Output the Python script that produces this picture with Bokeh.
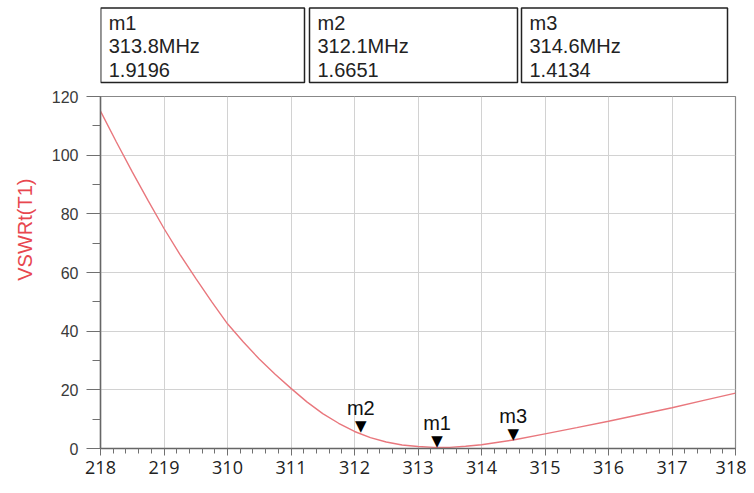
import math
from bokeh.plotting import figure
from bokeh.models import (Range1d, SingleIntervalTicker, Title, ColumnDataSource)
from bokeh.layouts import column
from bokeh.core.properties import value
from bokeh.embed import file_html
from bokeh.resources import INLINE

# ---- data ----
freq = [308, 308.25, 308.5, 308.75, 309, 309.25, 309.5, 309.75, 310,
        310.25, 310.5, 310.75, 311, 311.25, 311.5, 311.75, 312,
        312.25, 312.5, 312.75, 313, 313.25, 313.5, 313.75, 314,
        314.5, 315, 315.5, 316, 316.5, 317, 317.5, 318]
vswr = [115, 104.5, 94.3, 84.5, 75, 66.2, 58, 50.1, 42.5,
        36.3, 30.5, 25.3, 20.5, 15.9, 11.9, 8.6, 5.8,
        3.7, 2.2, 1.2, 0.7, 0.4, 0.4, 0.75, 1.3,
        2.9, 5.0, 7.1, 9.3, 11.6, 13.9, 16.4, 18.9]

x_ticks = [308, 309, 310, 311, 312, 313, 314, 315, 316, 317, 318]
x_tick_labels = ["218", "219", "310", "311", "312", "313", "314", "315", "316", "317", "318"]

marker_names = ["m1", "m2", "m3"]
marker_x = [313.3, 312.1, 314.5]
marker_y = [0.4, 5.6, 3.0]
box_freq = ["313.8MHz", "312.1MHz", "314.6MHz"]
box_val = ["1.9196", "1.6651", "1.4134"]

CURVE = "#e9777d"

W = 746
FRAME_L, FRAME_R = 100, 735

# ---- top boxes figure (frame aligned with main frame, page coords) ----
top = figure(width=W, height=88, x_range=Range1d(FRAME_L, FRAME_R), y_range=Range1d(88, 0),
             output_backend="svg", toolbar_location=None, min_border=0,
             min_border_left=FRAME_L, min_border_right=W - FRAME_R)
top.axis.visible = False
top.grid.visible = False
top.outline_line_color = None
box_left = [100.2, 309, 521]
box_right = [304, 517, 727]
top.quad(left=box_left, right=box_right, top=[7.5] * 3, bottom=[82] * 3,
         fill_color="white", line_color="#222222", line_width=1.5)
for i in range(3):
    lines = [marker_names[i], box_freq[i], box_val[i]]
    ys = [22, 45.5, 69]
    top.text(x=[box_left[i] + 8] * 3, y=ys, text=lines,
             text_font=value("Liberation Sans"), text_font_size="20px",
             text_color="#222222", text_align="left", text_baseline="middle")

# ---- main figure ----
p = figure(width=W, height=397, x_range=Range1d(308, 318), y_range=Range1d(0, 120),
           output_backend="svg", toolbar_location=None,
           min_border_top=8, min_border_bottom=37, min_border_left=FRAME_L,
           min_border_right=W - FRAME_R)

p.line(freq, vswr, line_color=CURVE, line_width=1.4)

# markers
src = ColumnDataSource(dict(x=marker_x, y=marker_y, name=marker_names,
                            tri=["\u25BC"] * 3))
p.text(x="x", y="y", text="tri", source=src, text_font=value("DejaVu Sans"),
       text_font_size="15px", text_color="black", text_align="center",
       text_baseline="bottom", y_offset=3)
p.text(x="x", y="y", text="name", source=src, text_font=value("Liberation Sans"),
       text_font_size="20px", text_color="#111111", text_align="center",
       text_baseline="bottom", y_offset=-13)

# axes
p.xaxis.ticker = SingleIntervalTicker(interval=1, num_minor_ticks=5)
p.xaxis.major_label_overrides = {x: l for x, l in zip(x_ticks, x_tick_labels)}
p.yaxis.ticker = SingleIntervalTicker(interval=20, num_minor_ticks=2)

for ax in (p.xaxis, p.yaxis):
    ax.axis_line_color = "#666666"
    ax.axis_line_width = 1.5
    ax.major_tick_line_color = "#707070"
    ax.minor_tick_line_color = "#707070"
    ax.major_tick_in = 0
    ax.minor_tick_in = 0

p.xaxis.major_tick_out = 7
p.xaxis.minor_tick_out = 5
p.xaxis.major_label_standoff = 5
p.xaxis.major_label_text_font = "Open Sans"
p.xaxis.major_label_text_font_size = "18px"
p.xaxis.major_label_text_color = "#222222"

p.yaxis.major_tick_out = 14
p.yaxis.minor_tick_out = 8
p.yaxis.major_label_standoff = 8
p.yaxis.major_label_text_font = "Liberation Sans"
p.yaxis.major_label_text_font_size = "16px"
p.yaxis.major_label_text_color = "#3a3a3a"

p.grid.grid_line_color = "#d2d2d2"
p.grid.grid_line_width = 1
p.outline_line_color = "#888888"
p.outline_line_width = 1.2

ytitle = Title(text="VSWRt(T1)", align="right", offset=82, standoff=22,
               vertical_align="top",
               text_font="Liberation Sans", text_font_size="20px",
               text_font_style="normal", text_color="#e8474f")
p.add_layout(ytitle, "left")

layout = column(top, p, spacing=0)
open("out.html", "w").write(file_html(layout, INLINE))
